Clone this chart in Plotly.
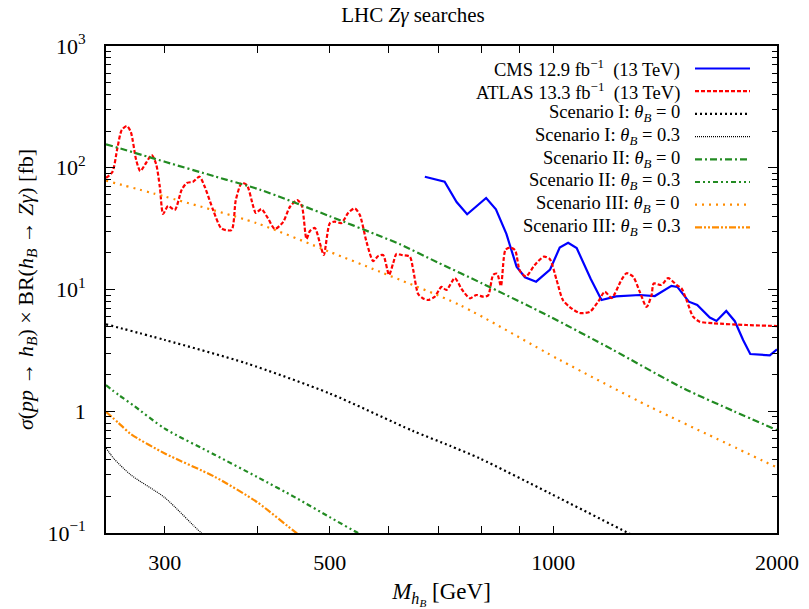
import numpy as np
import plotly.graph_objects as go

# ---------------- data ----------------
atlas_mass = [250, 255, 259, 262.5, 266.7, 270, 274.5, 278, 283, 288,
              292, 295.4, 298.4, 303, 309.4, 316, 321, 327.5, 334, 339.6,
              348.4, 357.6, 368.8, 373.8, 380.7, 386.8, 394.4, 397.7, 404.7, 412.7,
              421.8, 432.8, 441.9, 452.3, 458.7, 465.4, 470.3, 477.6, 485, 491,
              500.3, 508, 518.7, 529.4, 540.5, 549, 560.6, 572.2, 581, 590,
              601, 608.8, 615, 624.8, 641, 647.7, 657.8, 668, 678.5, 692.7,
              707, 718, 737, 752.5, 772, 788, 804.7, 817, 830, 840,
              850, 862, 874, 888, 901.6, 918.6, 944, 971, 989, 1010,
              1030, 1052, 1085, 1120, 1149, 1173, 1198, 1235, 1255, 1281,
              1307, 1335, 1356, 1365, 1398, 1427, 1465, 1488, 1511, 1542,
              1574, 1641, 1820, 2000]
atlas_xsec = [82.4, 92.3, 145.3, 204.2, 220.3, 196.6, 115.8, 94.0, 109.4, 127.3,
              107.4, 69.5, 41.7, 48.5, 45.0, 65.7, 74.9, 76.8, 84.4, 69.5,
              45.0, 31.7, 30.8, 54.3, 74.9, 72.2, 48.5, 42.5, 45.8, 38.7,
              31.4, 35.8, 47.6, 54.3, 48.5, 26.0, 30.2, 32.0, 24.1, 19.2,
              35.0, 36.1, 35.2, 42.5, 46.4, 40.9, 24.5, 17.1, 18.8, 19.2,
              13.2, 16.5, 19.6, 19.2, 18.6, 14.5, 9.18, 8.44, 8.20, 8.73,
              10.5, 9.91, 12.4, 10.1, 8.47, 9.01, 8.73, 8.93, 13.2, 13.5,
              10.7, 21.1, 22.1, 21.1, 14.2, 12.8, 15.9, 18.6, 17.8, 12.0,
              8.20, 7.18, 6.41, 6.57, 7.94, 9.59, 8.51, 12.0, 13.6, 12.7,
              9.59, 7.18, 9.01, 11.2, 10.9, 12.4, 10.9, 10.2, 8.20, 5.98,
              5.44, 5.28, 5.11, 5.01]

cms_mass = [671.5, 714, 741, 765.6, 812, 837, 864.6, 892.4, 915.7, 948,
            990, 1020, 1047, 1075, 1123, 1161, 1214, 1307, 1369.5, 1442,
            1468.5, 1522, 1562, 1624, 1658, 1709, 1755, 1800.6, 1841, 1956, 2000]
cms_xsec = [84.4, 76.8, 52.3, 41.5, 56.4, 45.6, 28.6, 15.4, 12.6, 11.6,
            14.6, 22.1, 24.2, 21.9, 12.2, 8.20, 8.79, 9.01, 8.84, 10.7,
            10.5, 7.94, 7.46, 5.89, 5.51, 6.66, 5.49, 3.85, 2.95, 2.88, 3.22]

s1_t0_mass = [250, 300, 386, 500, 647, 726, 796, 989, 1261, 1300]
s1_t0_xsec = [5.18, 3.85, 2.48, 1.40, 0.69, 0.52, 0.41, 0.212, 0.10, 0.091]

s1_t3_mass = [250, 256, 270, 300, 336, 345]
s1_t3_xsec = [0.50, 0.41, 0.30, 0.195, 0.10, 0.09]

s2_t0_mass = [250, 300, 350, 403, 500, 584, 621, 700, 800, 989, 1200, 1494, 1750, 2000]
s2_t0_xsec = [156, 112, 85, 66, 40, 27.5, 23.6, 16.6, 11.3, 6.0, 3.22, 1.55, 1.0, 0.70]

s2_t3_mass = [250, 260, 272, 300, 350, 400, 450, 500, 546, 560]
s2_t3_xsec = [1.64, 1.36, 1.12, 0.72, 0.44, 0.287, 0.195, 0.135, 0.100, 0.093]

s3_t0_mass = [250, 300, 399, 500, 584, 748, 1020, 1348, 1710, 2000]
s3_t0_xsec = [78.3, 58, 35, 20.4, 14.0, 7.46, 2.64, 1.09, 0.545, 0.345]

s3_t3_mass = [250, 260, 270, 300, 350, 400, 451, 460]
s3_t3_xsec = [0.99, 0.80, 0.65, 0.45, 0.29, 0.178, 0.10, 0.092]

x_tick_vals = [300, 500, 1000, 2000]
x_tick_text = ["300", "500", "1000", "2000"]
x_minor_vals = [400, 600, 700, 800, 900]
y_tick_vals = [0.1, 1, 10, 100, 1000]
y_tick_text = ["10<sup>−1</sup>", "1", "10<sup>1</sup>", "10<sup>2</sup>", "10<sup>3</sup>"]

# ---------------- styles ----------------
BLUE = "#0000ff"
RED = "#ff0000"
BLACK = "#000000"
GREEN = "#228b22"
ORANGE = "#ff8c00"
FONT = "Liberation Serif, DejaVu Serif, serif"
EQ = "&nbsp;=&nbsp;"
SP = "&nbsp;"

series = [
    ("CMS 12.9" + SP + "fb<sup>−1</sup>" + SP + SP + "(13 TeV)", cms_mass, cms_xsec, BLUE, "solid", 2.2, "linear"),
    ("ATLAS 13.3" + SP + "fb<sup>−1</sup>" + SP + SP + "(13 TeV)", atlas_mass, atlas_xsec, RED, "4px,2px", 2.2, "spline"),
    ("Scenario I: <i>θ</i><sub><i>B</i></sub>" + EQ + "0", s1_t0_mass, s1_t0_xsec, BLACK, "2px,3px", 2.2, "spline"),
    ("Scenario I: <i>θ</i><sub><i>B</i></sub>" + EQ + "0.3", s1_t3_mass, s1_t3_xsec, BLACK, "1px,1px", 1.2, "spline"),
    ("Scenario II: <i>θ</i><sub><i>B</i></sub>" + EQ + "0", s2_t0_mass, s2_t0_xsec, GREEN, "7px,3px,2px,3px", 2.2, "spline"),
    ("Scenario II: <i>θ</i><sub><i>B</i></sub>" + EQ + "0.3", s2_t3_mass, s2_t3_xsec, GREEN, "5px,3px,2px,3px,2px,3px", 2.2, "spline"),
    ("Scenario III: <i>θ</i><sub><i>B</i></sub>" + EQ + "0", s3_t0_mass, s3_t0_xsec, ORANGE, "2px,5px", 2.2, "spline"),
    ("Scenario III: <i>θ</i><sub><i>B</i></sub>" + EQ + "0.3", s3_t3_mass, s3_t3_xsec, ORANGE, "7px,2px,2px,2px,2px,2px", 2.2, "spline"),
]

fig = go.Figure()
for name, xs, ys, color, dash, width, shape in series:
    line = dict(color=color, dash=dash, width=width, shape=shape)
    if shape == "spline":
        line["smoothing"] = 0.7
    fig.add_trace(go.Scatter(x=xs, y=ys, mode="lines", name=name, line=line,
                             showlegend=False, cliponaxis=True))

# ---------------- manual gnuplot-style legend (text left, sample right) ----------------
W, H = 809, 609
L, R, T, B = 106, 32, 46, 76
pw, ph = W - L - R, H - T - B

def px2paper_x(px):
    return (px - L) / pw

def py2paper_y(py):
    return 1 - (py - T) / ph

for i, (name, xs, ys, color, dash, width, shape) in enumerate(series):
    py = 68.5 + 22.7 * i
    fig.add_annotation(x=px2paper_x(681), y=py2paper_y(py), xref="paper", yref="paper",
                       text=name, showarrow=False, xanchor="right", yanchor="middle",
                       borderpad=0, font=dict(family=FONT, size=18.5, color="black"))
    fig.add_shape(type="line", xref="paper", yref="paper",
                  x0=px2paper_x(695), x1=px2paper_x(750),
                  y0=py2paper_y(py), y1=py2paper_y(py),
                  line=dict(color=color, dash=dash, width=width))

fig.update_layout(
    width=W, height=H,
    margin=dict(l=L, r=R, t=T, b=B, pad=0, autoexpand=False),
    paper_bgcolor="white", plot_bgcolor="white",
    font=dict(family=FONT, size=21, color="black"),
    title=dict(text="LHC <i>Zγ</i> searches", x=413 / W, xanchor="center",
               y=1 - 15 / H, yanchor="middle", yref="container",
               font=dict(family=FONT, size=21)),
)

fig.update_xaxes(
    type="log", range=[np.log10(250), np.log10(2000)],
    tickmode="array", tickvals=x_tick_vals, ticktext=x_tick_text,
    ticks="inside", ticklen=7, tickwidth=1.2, tickcolor="black",
    minor=dict(tickmode="array", tickvals=x_minor_vals, ticks="inside", ticklen=7,
               tickwidth=1.2, tickcolor="black", showgrid=False),
    showline=True, linecolor="black", linewidth=1.6, mirror="ticks",
    showgrid=False, zeroline=False, automargin=False,
    tickfont=dict(family=FONT, size=22), ticklabelstandoff=9,
    title=dict(text="<i>M</i><sub><i>h</i><sub><i>B</i></sub></sub>" + SP + "[GeV]",
               font=dict(family=FONT, size=23), standoff=13),
)

minor_y = [m * 10.0 ** k for k in range(-1, 3) for m in range(2, 10)]
ytitle = ("<i>σ</i>(<i>pp</i>" + SP + "→" + SP + "<i>h</i><sub><i>B</i></sub>)" + SP + "×" + SP +
          "BR(<i>h</i><sub><i>B</i></sub>" + SP + "→" + SP + "<i>Zγ</i>)" + SP + "[fb]")
fig.update_yaxes(
    type="log", range=[-1, 3],
    tickmode="array", tickvals=y_tick_vals, ticktext=y_tick_text,
    ticks="inside", ticklen=9, tickwidth=1.2, tickcolor="black",
    minor=dict(tickmode="array", tickvals=minor_y, ticks="inside", ticklen=5,
               tickwidth=1, tickcolor="black", showgrid=False),
    showline=True, linecolor="black", linewidth=1.6, mirror="ticks",
    showgrid=False, zeroline=False, automargin=False,
    tickfont=dict(family=FONT, size=22), ticklabelstandoff=14,
    title=dict(text=ytitle, font=dict(family=FONT, size=22), standoff=8),
)

fig.write_html("out.html")
